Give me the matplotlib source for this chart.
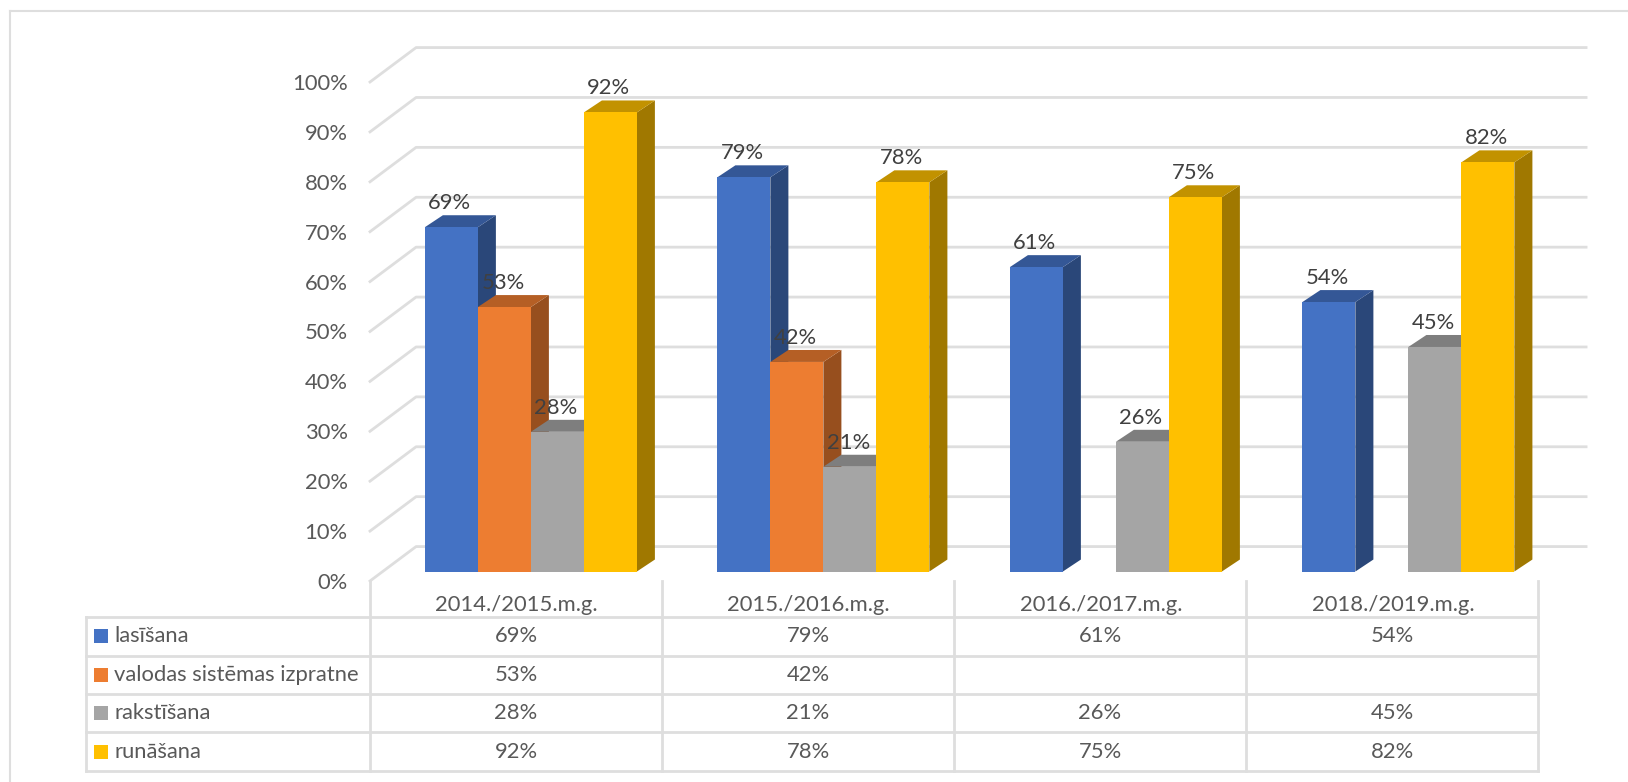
import matplotlib
matplotlib.use("Agg")
from matplotlib import pyplot as plt
from matplotlib.patches import Polygon, Rectangle

plt.rcParams["font.family"] = ["Lato", "DejaVu Sans"]

years = ["2014./2015.m.g.", "2015./2016.m.g.", "2016./2017.m.g.", "2018./2019.m.g."]
names = ["lasīšana", "valodas sistēmas izpratne", "rakstīšana", "runāšana"]
lasisana = [69, 79, 61, 54]
valodas = [53, 42, None, None]
rakstisana = [28, 21, 26, 45]
runasana = [92, 78, 75, 82]
series = [lasisana, valodas, rakstisana, runasana]
front_colors = ["#4472C4", "#ED7D31", "#A5A5A5", "#FFC000"]
top_colors = ["#345796", "#B55F25", "#7E7E7E", "#C29200"]
side_colors = ["#2A4779", "#974F1E", "#686868", "#A07800"]
grid_color = "#DEDEDE"
text_color = "#595959"
W, H = 1628, 782
font_size = 15.8

fig = plt.figure(figsize=(W / 100, H / 100), dpi=100)

# pixel layer for frame and table
bg = fig.add_axes([0, 0, 1, 1])
bg.set_xlim(0, W)
bg.set_ylim(H, 0)
bg.axis("off")

# front plane of the chart: 0-4 categories, 0-100 percent
left, right, bottom, top = 370, 1540, 581, 82
ax = fig.add_axes([left / W, 1 - bottom / H, (right - left) / W, (bottom - top) / H])
ax.set_xlim(0, 4)
ax.set_ylim(0, 100)
ax.patch.set_alpha(0)
for s in ax.spines.values():
    s.set_visible(False)

bar_w = 0.1812
wall_dx, wall_dy = 0.1575, 6.9
bar_dx, bar_dy = 0.05, 1.9
depth_x, depth_y = 0.0616, 2.4

# only the top and left edges of the outer frame are in the picture
bg.plot([10, W], [11, 11], color=grid_color, lw=1.5)
bg.plot([10, 10], [11, H], color=grid_color, lw=1.5)

# gridlines on side wall and back wall
for v in range(0, 101, 10):
    ax.plot([0, wall_dx, 4 + wall_dx], [v, v + wall_dy, v + wall_dy], color=grid_color,
            lw=2, clip_on=False, zorder=1)

# bars
for i in range(len(years)):
    for j in range(len(series)):
        val = series[j][i]
        if val is None:
            continue
        x0 = i + 0.5 + (j - 2) * bar_w + bar_dx
        x1 = x0 + bar_w
        y0 = bar_dy
        y1 = val + bar_dy
        z = 3 + j * 0.1
        ax.add_patch(Polygon([(x1, y0), (x1 + depth_x, y0 + depth_y), (x1 + depth_x, y1 + depth_y), (x1, y1)],
                             color=side_colors[j], clip_on=False, zorder=z, lw=0))
        ax.add_patch(Polygon([(x0, y1), (x0 + depth_x, y1 + depth_y), (x1 + depth_x, y1 + depth_y), (x1, y1)],
                             color=top_colors[j], clip_on=False, zorder=z, lw=0))
        ax.add_patch(Rectangle((x0, y0), bar_w, val, color=front_colors[j], clip_on=False, zorder=z + 0.05, lw=0))
        ax.text((x0 + x1) / 2 - 0.005, y1 + depth_y + 0.4, str(val) + "%", ha="center", va="bottom",
                color="#404040", fontsize=font_size, zorder=6, clip_on=False)

ax.set_yticks(range(0, 101, 10))
ax.set_yticklabels([str(v) + "%" for v in range(0, 101, 10)], color=text_color, fontsize=font_size)
ax.set_xticks([i + 0.5 for i in range(len(years))])
ax.set_xticklabels(years, color=text_color, fontsize=font_size)
ax.tick_params(axis="both", length=0)
ax.tick_params(axis="y", pad=16)
ax.tick_params(axis="x", pad=10)

# data table under the chart
table_right = 1538
row_y = [617.3, 655.6, 694, 732.3, 770.7]
col_x = [left + i * (table_right - left) / 4 for i in range(5)]
for y in row_y:
    bg.plot([86, table_right], [y, y], color=grid_color, lw=2)
bg.plot([86, 86], [row_y[0], row_y[-1]], color=grid_color, lw=2)
for x in col_x:
    bg.plot([x, x], [bottom, row_y[-1]], color=grid_color, lw=2)

for j, name in enumerate(names):
    yc = (row_y[j] + row_y[j + 1]) / 2
    bg.add_patch(Rectangle((94, yc - 7), 14, 14, color=front_colors[j], lw=0))
    bg.text(114, yc, name, va="center", ha="left", color=text_color, fontsize=font_size)
    for i in range(len(years)):
        if series[j][i] is not None:
            bg.text((col_x[i] + col_x[i + 1]) / 2, yc, str(series[j][i]) + "%", va="center", ha="center",
                    color=text_color, fontsize=font_size)

plt.savefig("out.png", dpi=100)
